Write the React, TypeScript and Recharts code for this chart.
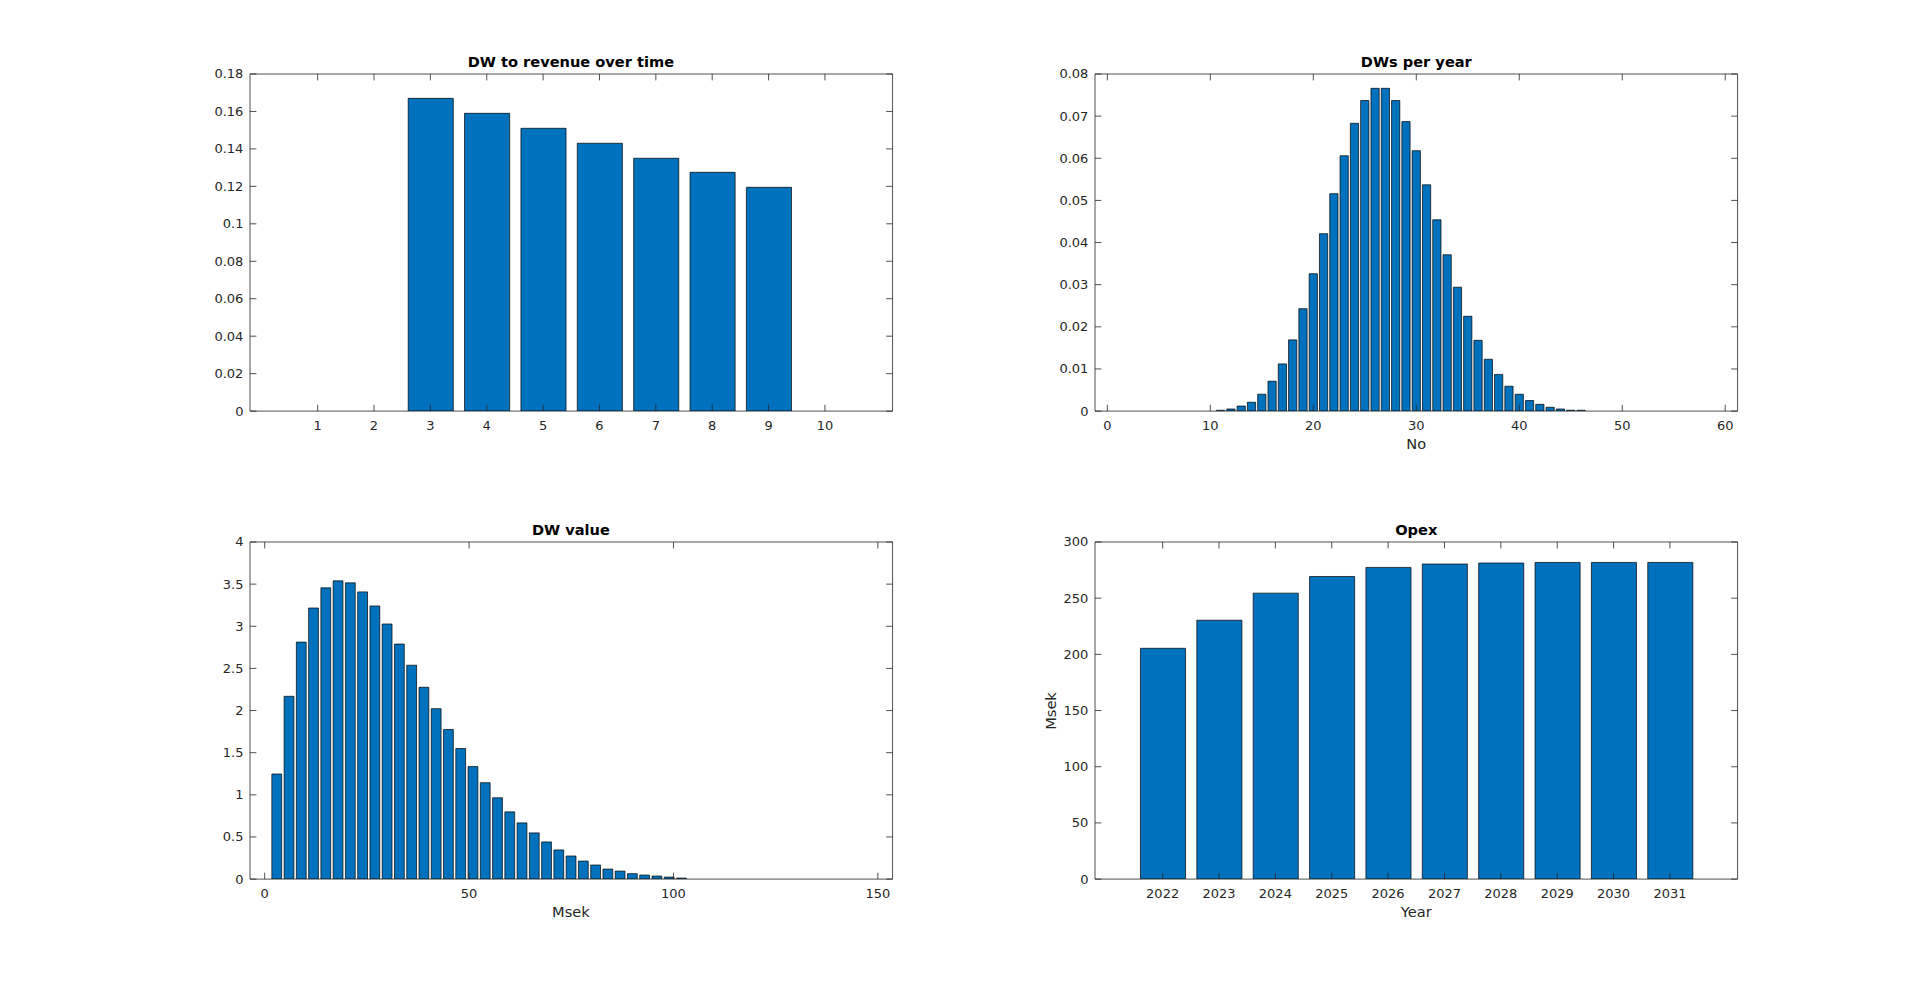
import { Bar, BarChart, ReferenceLine, XAxis, YAxis } from "recharts";

// DW to revenue over time
const revenueX = [1, 2, 3, 4, 5, 6, 7, 8, 9, 10];
const revenueShare = [0, 0, 0.167, 0.159, 0.151, 0.143, 0.135, 0.1275, 0.1195, 0];
const revenueYTicks = [0, 0.02, 0.04, 0.06, 0.08, 0.1, 0.12, 0.14, 0.16, 0.18];

// DWs per year
const dwCount = [
	0, 1, 2, 3, 4, 5, 6, 7, 8, 9, 10, 11, 12, 13, 14, 15, 16, 17, 18, 19, 20, 21, 22, 23, 24, 25, 26, 27, 28, 29,
	30, 31, 32, 33, 34, 35, 36, 37, 38, 39, 40, 41, 42, 43, 44, 45, 46, 47, 48, 49, 50, 51, 52, 53, 54, 55, 56, 57,
	58, 59, 60,
];
const dwCountProb = [
	0, 0, 0, 0, 0, 0, 0, 0, 0, 0, 0, 0.0002, 0.0005, 0.0012, 0.0021, 0.004, 0.0071, 0.0112, 0.0169, 0.0243, 0.0326,
	0.0421, 0.0516, 0.0606, 0.0683, 0.0737, 0.0766, 0.0766, 0.0737, 0.0687, 0.0618, 0.0537, 0.0454, 0.0371, 0.0294,
	0.0225, 0.0168, 0.0123, 0.0087, 0.0059, 0.004, 0.0025, 0.0016, 0.0009, 0.0005, 0.0002, 0.0002, 0, 0, 0, 0, 0, 0,
	0, 0, 0, 0, 0, 0, 0, 0,
];
const dwCountXTicks = [0, 10, 20, 30, 40, 50, 60];
const dwCountYTicks = [0, 0.01, 0.02, 0.03, 0.04, 0.05, 0.06, 0.07, 0.08];

// DW value
const dwValueBin = [
	0, 3, 6, 9, 12, 15, 18, 21, 24, 27, 30, 33, 36, 39, 42, 45, 48, 51, 54, 57, 60, 63, 66, 69, 72, 75, 78, 81, 84,
	87, 90, 93, 96, 99, 102, 105, 108, 111, 114, 117, 120, 123, 126, 129, 132, 135, 138, 141, 144, 147, 150,
];
const dwValueDensity = [
	0, 1.247, 2.169, 2.812, 3.217, 3.456, 3.539, 3.515, 3.408, 3.241, 3.027, 2.789, 2.538, 2.276, 2.022, 1.776,
	1.549, 1.335, 1.144, 0.965, 0.798, 0.667, 0.548, 0.441, 0.346, 0.274, 0.214, 0.167, 0.119, 0.095, 0.064, 0.048,
	0.036, 0.024, 0.012, 0, 0, 0, 0, 0, 0, 0, 0, 0, 0, 0, 0, 0, 0, 0, 0,
];
const dwValueXTicks = [0, 50, 100, 150];
const dwValueYTicks = [0, 0.5, 1, 1.5, 2, 2.5, 3, 3.5, 4];

// Opex
const opexYear = [2022, 2023, 2024, 2025, 2026, 2027, 2028, 2029, 2030, 2031];
const opexMsek = [205.4, 230.4, 254.5, 269.3, 277.4, 280.4, 281.3, 281.8, 281.8, 281.8];
const opexYTicks = [0, 50, 100, 150, 200, 250, 300];

const FONT = "'DejaVu Sans', sans-serif";
const INK = "#262626";
const BAR = "#0072BD";
const TICK_LEN = 6.4;
const PW = 642.6;
const PH = 337.1;
const Y_W = 80;
const X_H = 60;
const T_M = 30;
const R_M = 10;

type Pt = { x: number; y: number };

// ticks point inward, on both sides of the box, like MATLAB
function BottomTick({ x, y, payload }: any) {
	return (
		<g>
			<line x1={x} x2={x} y1={y} y2={y - TICK_LEN} stroke={INK} strokeWidth={0.8} />
			<line x1={x} x2={x} y1={y - PH} y2={y - PH + TICK_LEN} stroke={INK} strokeWidth={0.8} />
			<text x={x} y={y + 14.7} textAnchor="middle" dominantBaseline="central" fill={INK} fontSize={13} fontFamily={FONT}>
				{String(payload.value)}
			</text>
		</g>
	);
}

function LeftTick({ x, y, payload }: any) {
	return (
		<g>
			<line x1={x} x2={x + TICK_LEN} y1={y} y2={y} stroke={INK} strokeWidth={0.8} />
			<line x1={x + PW} x2={x + PW - TICK_LEN} y1={y} y2={y} stroke={INK} strokeWidth={0.8} />
			<text x={x - 6.6} y={y} textAnchor="end" dominantBaseline="central" fill={INK} fontSize={13} fontFamily={FONT}>
				{String(payload.value)}
			</text>
		</g>
	);
}

function Panel({
	title,
	left,
	top,
	data,
	xDomain,
	xTicks,
	yDomain,
	yTicks,
	barSize,
	xLabel,
	yLabel,
}: {
	title: string;
	left: number;
	top: number;
	data: Pt[];
	xDomain: [number, number];
	xTicks: number[];
	yDomain: [number, number];
	yTicks: number[];
	barSize: number;
	xLabel?: string;
	yLabel?: string;
}) {
	const axisLine = { stroke: INK, strokeWidth: 0.8 };
	return (
		<>
			<div style={{ position: "absolute", left: left - Y_W, top: top - T_M }}>
				<BarChart
					width={Y_W + PW + R_M}
					height={T_M + PH + X_H}
					data={data}
					margin={{ top: T_M, right: R_M, bottom: 0, left: 0 }}
				>
					<Bar dataKey="y" fill={BAR} stroke="#000" strokeWidth={0.7} barSize={barSize} isAnimationActive={false} />
					<ReferenceLine y={yDomain[1]} stroke={INK} strokeWidth={0.8} />
					<ReferenceLine x={xDomain[1]} stroke={INK} strokeWidth={0.8} />
					<XAxis
						dataKey="x"
						type="number"
						domain={xDomain}
						ticks={xTicks}
						allowDataOverflow
						interval={0}
						height={X_H}
						tickSize={0}
						tickMargin={0}
						tickLine={false}
						axisLine={axisLine}
						tick={(p: any) => <BottomTick {...p} />}
					/>
					<YAxis
						type="number"
						domain={yDomain}
						ticks={yTicks}
						allowDataOverflow
						interval={0}
						width={Y_W}
						tickSize={0}
						tickMargin={0}
						tickLine={false}
						axisLine={axisLine}
						tick={(p: any) => <LeftTick {...p} />}
					/>
				</BarChart>
			</div>
			<div
				style={{
					position: "absolute",
					left: left + PW / 2,
					top: top - 12.5,
					transform: "translate(-50%, -50%)",
					fontFamily: FONT,
					fontWeight: "bold",
					fontSize: 14.6,
					lineHeight: 1,
					whiteSpace: "nowrap",
					color: "#000",
				}}
			>
				{title}
			</div>
			{xLabel && (
				<div
					style={{
						position: "absolute",
						left: left + PW / 2,
						top: top + PH + 33,
						transform: "translate(-50%, -50%)",
						fontFamily: FONT,
						fontSize: 14.6,
						lineHeight: 1,
						whiteSpace: "nowrap",
						color: INK,
					}}
				>
					{xLabel}
				</div>
			)}
			{yLabel && (
				<div
					style={{
						position: "absolute",
						left: left - 44,
						top: top + PH / 2,
						transform: "translate(-50%, -50%) rotate(-90deg)",
						fontFamily: FONT,
						fontSize: 14.6,
						lineHeight: 1,
						whiteSpace: "nowrap",
						color: INK,
					}}
				>
					{yLabel}
				</div>
			)}
		</>
	);
}

export default function App() {
	const revenueRows = revenueX.map((x, i) => ({ x, y: revenueShare[i] }));
	const countRows = dwCount.map((x, i) => ({ x, y: dwCountProb[i] }));
	const valueRows = dwValueBin.map((x, i) => ({ x, y: dwValueDensity[i] }));
	const opexRows = opexYear.map((x, i) => ({ x, y: opexMsek[i] }));
	return (
		<div style={{ position: "absolute", left: 0, top: 0, width: 1920, height: 988, background: "#fff", overflow: "hidden" }}>
			<Panel
				title="DW to revenue over time"
				left={249.6}
				top={74.1}
				data={revenueRows}
				xDomain={[-0.2, 11.2]}
				xTicks={revenueX}
				yDomain={[0, 0.18]}
				yTicks={revenueYTicks}
				barSize={(PW / 11.4) * 0.8}
			/>
			<Panel
				title="DWs per year"
				left={1095}
				top={74.1}
				data={countRows}
				xDomain={[-1.2, 61.2]}
				xTicks={dwCountXTicks}
				yDomain={[0, 0.08]}
				yTicks={dwCountYTicks}
				barSize={(PW / 62.4) * 0.8}
				xLabel="No"
			/>
			<Panel
				title="DW value"
				left={249.6}
				top={542.2}
				data={valueRows}
				xDomain={[-3.6, 153.6]}
				xTicks={dwValueXTicks}
				yDomain={[0, 4]}
				yTicks={dwValueYTicks}
				barSize={(PW / 157.2) * 2.4}
				xLabel="Msek"
			/>
			<Panel
				title="Opex"
				left={1095}
				top={542.2}
				data={opexRows}
				xDomain={[2020.8, 2032.2]}
				xTicks={opexYear}
				yDomain={[0, 300]}
				yTicks={opexYTicks}
				barSize={(PW / 11.4) * 0.8}
				xLabel="Year"
				yLabel="Msek"
			/>
		</div>
	);
}
